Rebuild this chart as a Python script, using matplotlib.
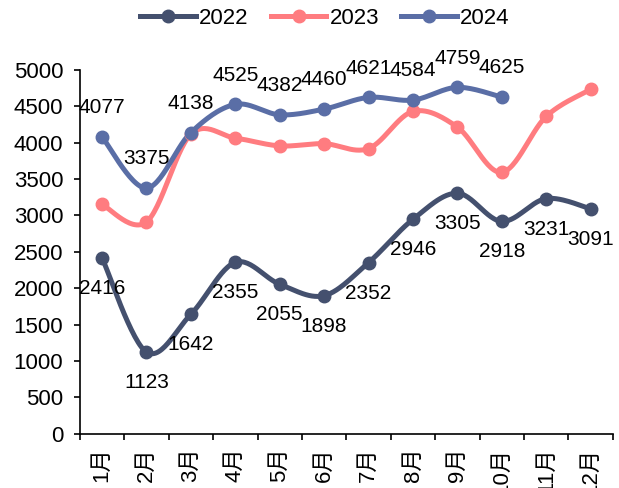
import numpy as np
import matplotlib
matplotlib.use('Agg')
import matplotlib.pyplot as plt
from matplotlib.lines import Line2D

plt.rcParams['font.family'] = ['Liberation Sans', 'Noto Sans CJK SC']

months = ['1月', '2月', '3月', '4月', '5月', '6月', '7月', '8月', '9月', '10月', '11月', '12月']
v2022 = [2416, 1123, 1642, 2355, 2055, 1898, 2352, 2946, 3305, 2918, 3231, 3091]
v2023 = [3150, 2910, 4115, 4062, 3955, 3985, 3918, 4428, 4213, 3592, 4360, 4730]
v2024 = [4077, 3375, 4138, 4525, 4382, 4460, 4621, 4584, 4759, 4625]

c2022 = '#44506E'
c2023 = '#FF7C80'
c2024 = '#5A6EA6'


def lissage(ax, x, y, n=30):
    """Courbe lissée (Catmull-Rom) calculée en pixels puis ramenée aux données"""
    pts = ax.transData.transform(np.column_stack([x, y]))
    out = []
    for i in range(len(pts) - 1):
        p0 = pts[max(i - 1, 0)]
        p1 = pts[i]
        p2 = pts[i + 1]
        p3 = pts[min(i + 2, len(pts) - 1)]
        b1 = p1 + (p2 - p0) / 6
        b2 = p2 - (p3 - p1) / 6
        t = np.linspace(0, 1, n)[:, None]
        seg = ((1 - t) ** 3 * p1 + 3 * (1 - t) ** 2 * t * b1
               + 3 * (1 - t) * t ** 2 * b2 + t ** 3 * p2)
        out.append(seg if i == 0 else seg[1:])
    out = np.vstack(out)
    return ax.transData.inverted().transform(out)


fig = plt.figure(figsize=(6.19, 4.88), dpi=100)
ax = fig.add_axes([0.129, 0.111, 0.861, 0.746])
ax.set_xlim(-0.5, 11.5)
ax.set_ylim(0, 5000)

lw, ms = 3.6, 9
series = [(v2022, c2022, -22), (v2023, c2023, None), (v2024, c2024, 21)]
for vals, col, off in series:
    x = np.arange(len(vals))
    courbe = lissage(ax, x, vals)
    ax.plot(courbe[:, 0], courbe[:, 1], color=col, lw=lw, solid_capstyle='round', zorder=2)
    ax.plot(x, vals, 'o', color=col, ms=ms, zorder=3)
    if off is not None:
        for xi, v in zip(x, vals):
            ax.annotate(str(v), (xi, v), xytext=(0, off), textcoords='offset points',
                        ha='center', va='center', fontsize=15, color='black', zorder=4)

ax.spines['top'].set_visible(False)
ax.spines['right'].set_visible(False)
ax.spines['left'].set_linewidth(1.2)
ax.spines['bottom'].set_linewidth(1.2)

ax.set_yticks(np.arange(0, 5001, 500))
ax.tick_params(axis='y', direction='out', length=4, width=1.2, pad=8, labelsize=16)
ax.set_xticks(np.arange(12))
ax.set_xticklabels(months, rotation=90, fontsize=16)
ax.tick_params(axis='x', length=0, pad=10)
ax.set_xticks(np.arange(-0.5, 12, 1), minor=True)
ax.tick_params(axis='x', which='minor', direction='out', length=4, width=1.2)

handles = [Line2D([], [], color=c, lw=lw, marker='o', ms=ms) for c in (c2022, c2023, c2024)]
fig.legend(handles, ['2022', '2023', '2024'], loc='center', bbox_to_anchor=(0.525, 0.963),
           ncol=3, frameon=False, fontsize=16, handlelength=2.5, handletextpad=0.15,
           columnspacing=1.0)

fig.savefig('out.png', dpi=100)
